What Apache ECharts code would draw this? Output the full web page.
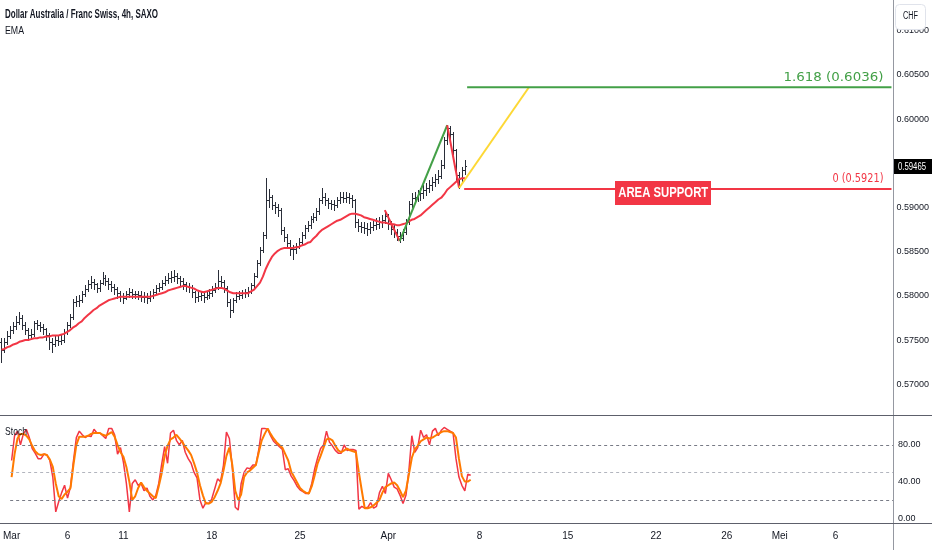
<!DOCTYPE html>
<html><head><meta charset="utf-8">
<script src="https://cdn.jsdelivr.net/npm/echarts/dist/echarts.min.js"></script>
<style>html,body{margin:0;padding:0;background:#fff}#c{width:932px;height:550px}</style>
</head><body><div id="c"></div>
<script>
// ---- data (prices in 1e-4 units, one entry per 4h bar) ----
const barOpen = [5748,5739,5748,5755,5761,5766,5770,5775,5767,5761,
 5756,5757,5769,5767,5765,5762,5756,5748,5746,5750,
 5749,5750,5759,5767,5776,5793,5794,5795,5802,5808,
 5813,5816,5813,5809,5815,5820,5817,5813,5810,5808,
 5803,5800,5798,5802,5804,5802,5802,5801,5799,5799,
 5798,5800,5804,5809,5810,5815,5818,5820,5821,5822,
 5820,5817,5813,5811,5810,5804,5799,5800,5801,5799,
 5801,5803,5807,5810,5817,5816,5809,5793,5784,5795,
 5800,5801,5803,5804,5805,5812,5823,5837,5852,5869,
 5908,5912,5903,5900,5897,5874,5867,5860,5853,5853,
 5856,5861,5869,5877,5880,5887,5889,5896,5908,5912,
 5908,5905,5904,5903,5908,5912,5911,5912,5911,5908,
 5883,5879,5878,5877,5876,5878,5880,5881,5883,5886,
 5890,5881,5876,5872,5868,5865,5872,5883,5904,5911,
 5912,5915,5916,5920,5922,5925,5929,5932,5936,5948,
 5976,5990,5983,5965,5937,5933,5942];
const barHigh = [5752,5752,5760,5766,5770,5777,5782,5778,5770,5764,
 5762,5772,5773,5770,5768,5764,5758,5752,5755,5755,
 5756,5762,5770,5779,5796,5800,5801,5806,5812,5818,
 5822,5819,5815,5818,5827,5824,5820,5817,5813,5810,
 5806,5803,5806,5809,5808,5806,5806,5805,5804,5803,
 5805,5808,5812,5815,5818,5823,5826,5828,5829,5826,
 5823,5820,5816,5815,5812,5806,5805,5806,5805,5806,
 5808,5811,5814,5829,5822,5818,5811,5796,5798,5804,
 5806,5807,5808,5810,5815,5826,5840,5855,5872,5933,
 5921,5914,5906,5904,5899,5878,5870,5863,5858,5860,
 5865,5872,5880,5885,5890,5894,5899,5911,5922,5916,
 5911,5909,5908,5912,5917,5917,5918,5916,5914,5910,
 5887,5884,5883,5882,5883,5885,5888,5889,5892,5896,
 5893,5885,5880,5876,5872,5876,5887,5907,5916,5918,
 5920,5922,5925,5928,5931,5935,5938,5942,5954,5980,
 5993,5992,5985,5966,5940,5946,5954];
const barLow = [5725,5736,5745,5752,5758,5763,5768,5763,5757,5750,
 5751,5755,5762,5760,5757,5750,5740,5737,5743,5744,
 5745,5748,5757,5765,5774,5788,5789,5793,5800,5806,
 5809,5808,5804,5806,5813,5812,5808,5805,5802,5797,
 5794,5792,5796,5799,5797,5797,5796,5794,5793,5792,
 5794,5798,5802,5805,5808,5812,5815,5816,5817,5815,
 5812,5808,5806,5804,5799,5793,5794,5795,5793,5796,
 5797,5800,5804,5808,5810,5804,5788,5776,5782,5793,
 5796,5798,5799,5800,5803,5810,5821,5835,5850,5866,
 5900,5898,5894,5890,5870,5862,5855,5846,5842,5849,
 5854,5859,5866,5873,5877,5883,5886,5893,5905,5903,
 5899,5898,5897,5900,5905,5906,5906,5905,5901,5878,
 5873,5872,5871,5869,5871,5874,5876,5877,5878,5882,
 5876,5870,5867,5863,5861,5863,5870,5881,5900,5905,
 5907,5909,5911,5914,5917,5920,5924,5928,5933,5945,
 5972,5977,5960,5930,5922,5930,5938];
const barClose = [5739,5748,5755,5761,5766,5770,5775,5767,5761,5756,
 5757,5769,5767,5765,5762,5756,5748,5746,5750,5749,
 5750,5759,5767,5776,5793,5794,5795,5802,5808,5813,
 5816,5813,5809,5815,5820,5817,5813,5810,5808,5803,
 5800,5798,5802,5804,5802,5802,5801,5799,5799,5798,
 5800,5804,5809,5810,5815,5818,5820,5821,5822,5820,
 5817,5813,5811,5810,5804,5799,5800,5801,5799,5801,
 5803,5807,5810,5817,5816,5809,5793,5784,5795,5800,
 5801,5803,5804,5805,5812,5823,5837,5852,5869,5908,
 5912,5903,5900,5897,5874,5867,5860,5853,5853,5856,
 5861,5869,5877,5880,5887,5889,5896,5908,5912,5908,
 5905,5904,5903,5908,5912,5911,5912,5911,5908,5883,
 5879,5878,5877,5876,5878,5880,5881,5883,5886,5890,
 5881,5876,5872,5868,5865,5872,5883,5904,5911,5912,
 5915,5916,5920,5922,5925,5929,5932,5936,5948,5976,
 5990,5983,5965,5937,5933,5942,5946.5];
const emaValues = [5739,5740,5742,5743,5745,5746,5748,5749,5750,5750,
 5751,5752,5752,5753,5753,5754,5754,5755,5755,5755,
 5756,5757,5759,5761,5764,5766,5769,5771,5775,5778,
 5781,5784,5786,5789,5791,5793,5795,5796,5797,5798,
 5799,5799,5799,5799,5799,5799,5799,5799,5799,5799,
 5799,5800,5801,5802,5803,5804,5806,5807,5808,5809,
 5810,5811,5811,5810,5809,5808,5806,5805,5804,5805,
 5806,5807,5808,5809,5809,5808,5806,5804,5803,5803,
 5803,5803,5803,5803,5805,5807,5811,5815,5822,5831,
 5838,5844,5848,5851,5853,5854,5854,5854,5854,5855,
 5855,5857,5858,5860,5861,5865,5868,5872,5875,5877,
 5879,5881,5883,5885,5886,5888,5890,5892,5893,5893,
 5892,5891,5889,5888,5887,5886,5885,5884,5883,5883,
 5882,5881,5881,5880,5880,5881,5882,5884,5886,5887,
 5889,5891,5894,5897,5900,5903,5906,5909,5911,5915,
 5920,5923,5926,5929,5932,5933,5933];
const stochK = [63,90,95,80,92,97,88,76,71,65,
 65,70,69,63,45,7,18,28,36,22,
 34,62,88,95,91,88,90,89,97,93,
 93,90,87,98,98,91,70,77,61,38,
 7,38,42,36,38,30,33,24,20,25,
 38,59,78,60,93,96,85,80,85,72,
 65,60,50,44,20,11,17,16,21,32,
 43,40,58,94,87,55,12,9,38,50,
 55,54,58,58,75,98,98,97,90,84,
 81,78,75,53,54,46,41,35,31,29,
 27,27,38,54,66,76,80,95,83,79,
 74,71,71,80,74,75,75,74,10,13,
 11,12,17,11,13,28,35,27,49,42,
 34,32,25,16,25,52,90,72,77,96,
 88,91,80,95,98,90,96,99,97,95,
 93,65,45,36,30,48,47];
const stochD = [45,70,87,92,92,90,86,79,73,70,
 69,70,69,64,56,38,24,21,26,29,
 33,58,80,89,89,89,90,92,93,93,
 93,91,90,92,94,89,80,72,67,56,
 40,20,24,33,39,34,30,27,24,22,
 35,49,68,79,86,88,91,87,83,78,
 74,69,60,50,36,25,16,16,18,23,
 30,38,52,68,77,58,30,20,26,45,
 50,52,55,58,72,85,92,98,92,87,
 83,80,77,70,63,51,45,39,33,30,
 28,27,35,47,60,68,77,86,87,85,
 79,74,72,74,76,74,73,72,50,30,
 11,11,12,14,17,20,28,34,36,38,
 39,36,30,23,30,48,66,75,79,84,
 86,88,87,88,90,92,94,95,95,94,
 93,88,65,46,40,40,42];
// date tick labels (bar slot index -> label)
const tickIndex = [0,19,38,68,98,128,159,189,219,243,261,280];
const tickLabel = ['Mar','6','11','18','25','Apr','8','15','22','26','Mei','6'];
// drawings
const zigIndex = [129,134,150,154,177.5];
const zigPrice = [0.5897,0.5862,0.5993,0.5922,0.6036];
const zigColor = ['#f23645','#43a047','#f23645','#fdd835'];
const fibLevel = ['1.618','0'];
const fibPrice = [0.6036,0.5921];
const fibStart = [156.7,155.7];
const fibColor = ['#43a047','#f23645'];
const lastPrice = 0.59465;
const stochLevels = [80,50,20];
const stochLevelColor = ['#787b86','#b2b5be','#787b86'];

// ---- chart ----
const SANS = '"Liberation Sans",Arial,sans-serif';
const WIDE = '"DejaVu Sans","Liberation Sans",sans-serif';
const SLOTS_MAX = 299.5;
const chart = echarts.init(document.getElementById('c'), null, {renderer:'canvas'});

const measureCtx = document.createElement('canvas').getContext('2d');
function fitScale(text, weight, size, family, target) {
  measureCtx.font = weight + ' ' + size + 'px ' + family;
  const w = measureCtx.measureText(text).width;
  return w > 0 ? target / w : 1;
}

const ohlc = barClose.map((c, i) => [i, barOpen[i]/1e4, barHigh[i]/1e4, barLow[i]/1e4, c/1e4]);
const emaData = emaValues.map((v, i) => [i, v/1e4]);
const kData = stochK.map((v, i) => [i, v]);
const dData = stochD.map((v, i) => [i, v]);

function renderOHLC(params, api) {
  const i = api.value(0);
  const o = api.coord([i, api.value(1)]);
  const h = api.coord([i, api.value(2)]);
  const l = api.coord([i, api.value(3)]);
  const c = api.coord([i, api.value(4)]);
  const x = Math.round(h[0]) + 0.5;
  const oy = Math.round(o[1]) + 0.5, cy = Math.round(c[1]) + 0.5;
  const st = {stroke:'#2a2e39', lineWidth:1};
  return {type:'group', children:[
    {type:'line', shape:{x1:x, y1:Math.round(h[1]), x2:x, y2:Math.round(l[1])+1}, style:st},
    {type:'line', shape:{x1:x-1.5, y1:oy, x2:x, y2:oy}, style:st},
    {type:'line', shape:{x1:x, y1:cy, x2:x+1.5, y2:cy}, style:st}
  ]};
}

const series = [
  {type:'custom', name:'bars', xAxisIndex:0, yAxisIndex:0, renderItem:renderOHLC,
   encode:{x:0, y:[1,2,3,4]}, data:ohlc, silent:true, z:3},
  {type:'line', name:'EMA', xAxisIndex:0, yAxisIndex:0, data:emaData, showSymbol:false,
   lineStyle:{color:'#f23645', width:2}, silent:true, z:4}
];
for (let s = 0; s < zigColor.length; s++) {
  series.push({type:'line', xAxisIndex:0, yAxisIndex:0, showSymbol:false, silent:true, z:5,
    data:[[zigIndex[s], zigPrice[s]], [zigIndex[s+1], zigPrice[s+1]]],
    lineStyle:{color:zigColor[s], width:2}});
}
for (let f = 0; f < fibPrice.length; f++) {
  series.push({type:'line', xAxisIndex:0, yAxisIndex:0, showSymbol:false, silent:true, z:5,
    data:[[fibStart[f], fibPrice[f]], [SLOTS_MAX, fibPrice[f]]],
    lineStyle:{color:fibColor[f], width:2}});
}
series.push({type:'line', name:'%K', xAxisIndex:1, yAxisIndex:1, data:kData, showSymbol:false, silent:true,
  lineStyle:{color:'#f23645', width:1.5}, z:3,
  markLine:{silent:true, symbol:'none', label:{show:false},
    data: stochLevels.map((v, k) => ({yAxis:v, lineStyle:{color:stochLevelColor[k], type:[3,3], width:1}}))}});
series.push({type:'line', name:'%D', xAxisIndex:1, yAxisIndex:1, data:dData, showSymbol:false, silent:true,
  lineStyle:{color:'#ff7a00', width:2}, z:4});

const axisLabelStyle = {color:'#131722', fontSize:9, fontFamily:SANS};

chart.setOption({
  animation:false,
  backgroundColor:'#ffffff',
  grid:[
    {left:0, right:39, top:0, height:415},
    {left:0, right:39, top:415, height:108.3}
  ],
  xAxis:[
    {type:'value', gridIndex:0, min:-0.5, max:SLOTS_MAX, show:false},
    {type:'value', gridIndex:1, min:-0.5, max:SLOTS_MAX,
     axisLine:{show:false}, axisTick:{show:false}, splitLine:{show:false},
     axisLabel:{customValues:tickIndex, margin:8, color:'#131722', fontSize:10, fontFamily:SANS,
       hideOverlap:false, align:'center', alignMinLabel:'center', alignMaxLabel:'center',
       formatter:(v) => { const k = tickIndex.indexOf(Math.round(v)); return k >= 0 ? tickLabel[k] : ''; }}}
  ],
  yAxis:[
    {type:'value', gridIndex:0, position:'right', min:0.56652, max:0.61347,
     minInterval:0.005, maxInterval:0.005, splitNumber:9,
     axisLine:{show:false}, axisTick:{show:false}, splitLine:{show:false},
     axisLabel:Object.assign({margin:5, showMinLabel:false, showMaxLabel:false,
       formatter:(v) => v.toFixed(5)}, axisLabelStyle)},
    {type:'value', gridIndex:1, position:'right', min:-5.45, max:112.6,
     minInterval:40, maxInterval:40,
     axisLine:{show:false}, axisTick:{show:false}, splitLine:{show:false},
     axisLabel:Object.assign({margin:5, showMinLabel:false, showMaxLabel:false,
       formatter:(v) => v.toFixed(2)}, axisLabelStyle)}
  ],
  series:series
});

// ---- annotations positioned through the chart's own scales ----
const graphics = [];
function fittedText(text, x, y, opts) {
  const weight = opts.weight || 'normal';
  const sc = fitScale(text, weight, opts.size, opts.family, opts.width);
  return {type:'text', x:x, y:y, scaleX:sc, z:opts.z || 60,
    style:{text:text, fill:opts.fill, fontSize:opts.size, fontWeight:weight, fontFamily:opts.family,
      align:opts.align || 'left', verticalAlign:'middle'}};
}
const axisX = 893.5;
graphics.push({type:'line', shape:{x1:axisX, y1:0, x2:axisX, y2:550}, style:{stroke:'#9598a1', lineWidth:1}, z:50});
graphics.push({type:'line', shape:{x1:0, y1:415.5, x2:932, y2:415.5}, style:{stroke:'#5d606b', lineWidth:1}, z:50});
graphics.push({type:'line', shape:{x1:0, y1:523.5, x2:932, y2:523.5}, style:{stroke:'#5d606b', lineWidth:1}, z:50});
graphics.push(fittedText('Dollar Australia / Franc Swiss, 4h, SAXO', 5, 15,
  {size:12, weight:'bold', family:SANS, fill:'#131722', width:153}));
graphics.push(fittedText('EMA', 5, 31, {size:11, family:SANS, fill:'#131722', width:19}));
graphics.push(fittedText('Stoch', 5, 432, {size:11, family:SANS, fill:'#131722', width:22}));
// CHF box
graphics.push({type:'rect', shape:{x:895.5, y:4.5, width:30, height:25, r:4}, style:{fill:'#ffffff', stroke:'#e0e3eb', lineWidth:1}, z:60});
graphics.push(fittedText('CHF', 910.5, 16, {size:10, family:SANS, fill:'#131722', width:15, align:'center', z:61}));
// fib labels
const fibWidth = [100, 51];
for (let f = 0; f < fibPrice.length; f++) {
  const p = chart.convertToPixel({xAxisIndex:0, yAxisIndex:0}, [SLOTS_MAX, fibPrice[f]]);
  graphics.push(fittedText(fibLevel[f] + ' (' + fibPrice[f].toFixed(4) + ')', p[0]-8, p[1]-10,
    {size:13, family:WIDE, fill:fibColor[f], width:fibWidth[f], align:'right'}));
}
// AREA SUPPORT tag
{
  const p = chart.convertToPixel({xAxisIndex:0, yAxisIndex:0}, [222.7, fibPrice[1]]);
  graphics.push({type:'rect', shape:{x:Math.round(p[0]-48), y:Math.round(p[1]-8), width:96, height:24}, style:{fill:'#f23645'}, z:60});
  graphics.push(fittedText('AREA SUPPORT', p[0], p[1]+4, {size:15, weight:'bold', family:SANS, fill:'#ffffff', width:90, align:'center', z:61}));
}
// last price tag on axis
{
  const p = chart.convertToPixel({xAxisIndex:0, yAxisIndex:0}, [SLOTS_MAX, lastPrice]);
  graphics.push({type:'rect', shape:{x:894, y:Math.round(p[1]-7), width:38, height:15}, style:{fill:'#000000'}, z:60});
  graphics.push(fittedText(lastPrice.toFixed(5), 898, p[1]+0.5, {size:10, family:SANS, fill:'#ffffff', width:28, z:61}));
}
chart.setOption({graphic:graphics});
</script></body></html>
